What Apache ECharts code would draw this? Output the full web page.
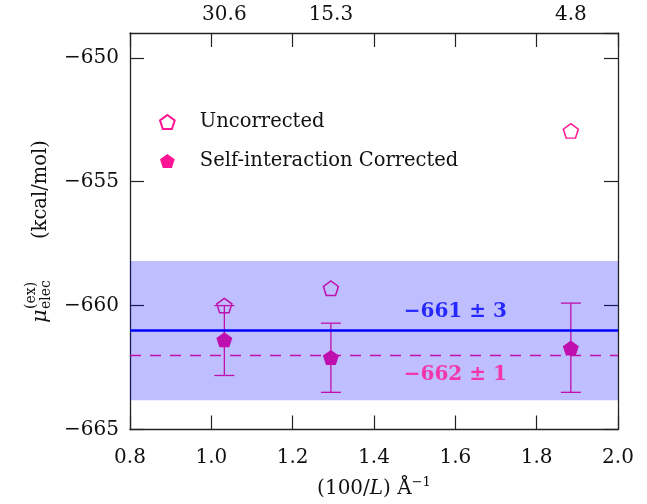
<!DOCTYPE html>
<html>
<head>
<meta charset="utf-8">
<script src="https://cdn.jsdelivr.net/npm/echarts@6/dist/echarts.min.js"></script>
<style>html,body{margin:0;padding:0;background:#fff}#c{width:647px;height:504px}</style>
</head>
<body>
<div id="c"></div>
<script>
// ---- data ----
const xVals = [1.032, 1.294, 1.884];
const topTickLabels = ['30.6', '15.3', '4.8'];
const uncorrected = [-660.0, -659.3, -652.95];
const corrected = [-661.38, -662.09, -661.71];
const corrLow = [-662.82, -663.5, -663.5];
const corrHigh = [-660.0, -660.71, -659.9];
const meanAll = -661.0;
const bandLow = -663.82;
const bandHigh = -658.2;
const meanCorrected = -662.0;
const annotBlue = {x: 1.60, y: -660.25, text: '−661 ± 3'};
const annotPink = {x: 1.60, y: -662.8, text: '−662 ± 1'};
const xMin = 0.8, xMax = 2.0, xStep = 0.2;
const yMin = -665, yMax = -649, yStep = 5;

const FONT = 'DejaVu Serif';
const PINK = '#ff1493';
const BLUE = '#0000ff';
const AX = '#222';
const pent = 'path://M0,-10 L9.511,-3.09 L5.878,8.09 L-5.878,8.09 L-9.511,-3.09 Z';
const minus = v => String(v).replace('-', '−');

const chart = echarts.init(document.getElementById('c'), null, {renderer: 'canvas'});
const axLine = {show: true, lineStyle: {color: AX, width: 1.3}};
const tick = {show: true, inside: true, length: 14, lineStyle: {color: AX, width: 1.2}};

chart.setOption({
  animation: false,
  backgroundColor: '#fff',
  grid: {left: 130, right: 29, top: 33, bottom: 73, containLabel: false},
  legend: {
    orient: 'vertical', left: 154, top: 107, itemGap: 19,
    itemWidth: 15, itemHeight: 14,
    data: ['Uncorrected', 'Self-interaction Corrected'],
    textStyle: {fontFamily: FONT, fontSize: 19.5, color: '#111', padding: [0, 0, 0, 20]},
    selectedMode: false
  },
  xAxis: [
    {
      type: 'value', position: 'bottom', min: xMin, max: xMax, interval: xStep,
      axisLine: axLine, axisTick: tick, splitLine: {show: false},
      axisLabel: {fontFamily: FONT, fontSize: 20, color: '#111', margin: 18, formatter: v => v.toFixed(1)},
      name: '(100/{i|L}) Å{sup|−1}', nameLocation: 'middle', nameGap: 47,
      nameTextStyle: {fontFamily: FONT, fontSize: 20, color: '#111',
        rich: {i: {fontFamily: FONT, fontStyle: 'italic', fontSize: 20, color: '#111'},
               sup: {fontFamily: FONT, fontSize: 13, color: '#111', padding: [0, 0, 12, 0]}}}
    },
    {
      type: 'value', position: 'top', min: xMin, max: xMax, interval: xStep,
      axisLine: axLine, axisTick: tick, splitLine: {show: false},
      axisLabel: {show: true, customValues: xVals, fontFamily: FONT, fontSize: 20, color: '#111', margin: 8,
        formatter: v => { let k = 0; xVals.forEach((x, i) => { if (Math.abs(x - v) < Math.abs(xVals[k] - v)) k = i; }); return topTickLabels[k]; }}
    }
  ],
  yAxis: [
    {
      type: 'value', position: 'left', min: yMin, max: yMax, interval: yStep,
      axisLine: axLine, axisTick: tick, splitLine: {show: false},
      axisLabel: {fontFamily: FONT, fontSize: 20, color: '#111', margin: 11, showMaxLabel: false,
        formatter: v => (v === yMax ? '' : minus(v))}
    },
    {
      type: 'value', position: 'right', min: yMin, max: yMax, interval: yStep,
      axisLine: axLine, axisTick: tick, splitLine: {show: false}, axisLabel: {show: false}
    }
  ],
  series: [
    {
      name: 'errorbars', type: 'custom', z: 2, silent: true,
      data: xVals.map((x, i) => [x, corrLow[i], corrHigh[i]]),
      renderItem: (params, api) => {
        const x = api.value(0);
        const lo = api.coord([x, api.value(1)]);
        const hi = api.coord([x, api.value(2)]);
        const w = 10;
        const st = {stroke: PINK, lineWidth: 1.3, fill: null};
        return {type: 'group', children: [
          {type: 'line', shape: {x1: lo[0], y1: lo[1], x2: hi[0], y2: hi[1]}, style: st},
          {type: 'line', shape: {x1: lo[0] - w, y1: lo[1], x2: lo[0] + w, y2: lo[1]}, style: st},
          {type: 'line', shape: {x1: hi[0] - w, y1: hi[1], x2: hi[0] + w, y2: hi[1]}, style: st}
        ]};
      }
    },
    {
      name: 'Uncorrected', type: 'scatter', z: 2, symbol: pent, symbolSize: [15, 14.5],
      data: xVals.map((x, i) => [x, uncorrected[i]]),
      itemStyle: {color: 'rgba(255,255,255,0)', borderColor: PINK, borderWidth: 1.5, opacity: 1}
    },
    {
      name: 'Self-interaction Corrected', type: 'scatter', z: 2, symbol: pent, symbolSize: [16, 15],
      data: xVals.map((x, i) => [x, corrected[i]]),
      itemStyle: {color: PINK, borderColor: PINK, borderWidth: 0, opacity: 1},
      markLine: {
        z: 2, silent: true, symbol: ['none', 'none'], label: {show: false},
        lineStyle: {color: PINK, width: 1.3, type: [11, 9]},
        data: [{yAxis: meanCorrected}]
      }
    },
    {
      name: 'band', type: 'line', z: 3, data: [],
      markArea: {z: 3, silent: true, itemStyle: {color: 'rgba(0,0,255,0.25)'},
        data: [[{yAxis: bandHigh}, {yAxis: bandLow}]]}
    },
    {
      name: 'mean', type: 'line', z: 4, data: [],
      markLine: {z: 4, silent: true, symbol: ['none', 'none'], label: {show: false},
        lineStyle: {color: BLUE, width: 2.5, type: 'solid'},
        data: [{yAxis: meanAll}]}
    },
    {
      name: 'annot', type: 'scatter', z: 6, symbolSize: 0, silent: true,
      data: [
        {value: [annotBlue.x, annotBlue.y], label: {formatter: annotBlue.text, color: BLUE}},
        {value: [annotPink.x, annotPink.y], label: {formatter: annotPink.text, color: PINK}}
      ],
      label: {show: true, position: 'inside', fontFamily: FONT, fontWeight: 'bold', fontSize: 20}
    }
  ],
  graphic: [
    {
      type: 'group', x: 41, y: 323, rotation: Math.PI / 2, silent: true,
      children: [
        {type: 'text', x: 0, y: 0, style: {text: 'μ', font: 'italic 21px "DejaVu Serif"', fill: '#111', verticalAlign: 'middle', align: 'left'}},
        {type: 'text', x: 14, y: -10, style: {text: '(ex)', font: '14px "DejaVu Serif"', fill: '#111', verticalAlign: 'middle', align: 'left'}},
        {type: 'text', x: 14, y: 5, style: {text: 'elec', font: '14px "DejaVu Serif"', fill: '#111', verticalAlign: 'middle', align: 'left'}},
        {type: 'text', x: 84, y: 0, style: {text: '(kcal/mol)', font: '19.5px "DejaVu Serif"', fill: '#111', verticalAlign: 'middle', align: 'left'}}
      ]
    }
  ]
});
</script>
</body>
</html>
